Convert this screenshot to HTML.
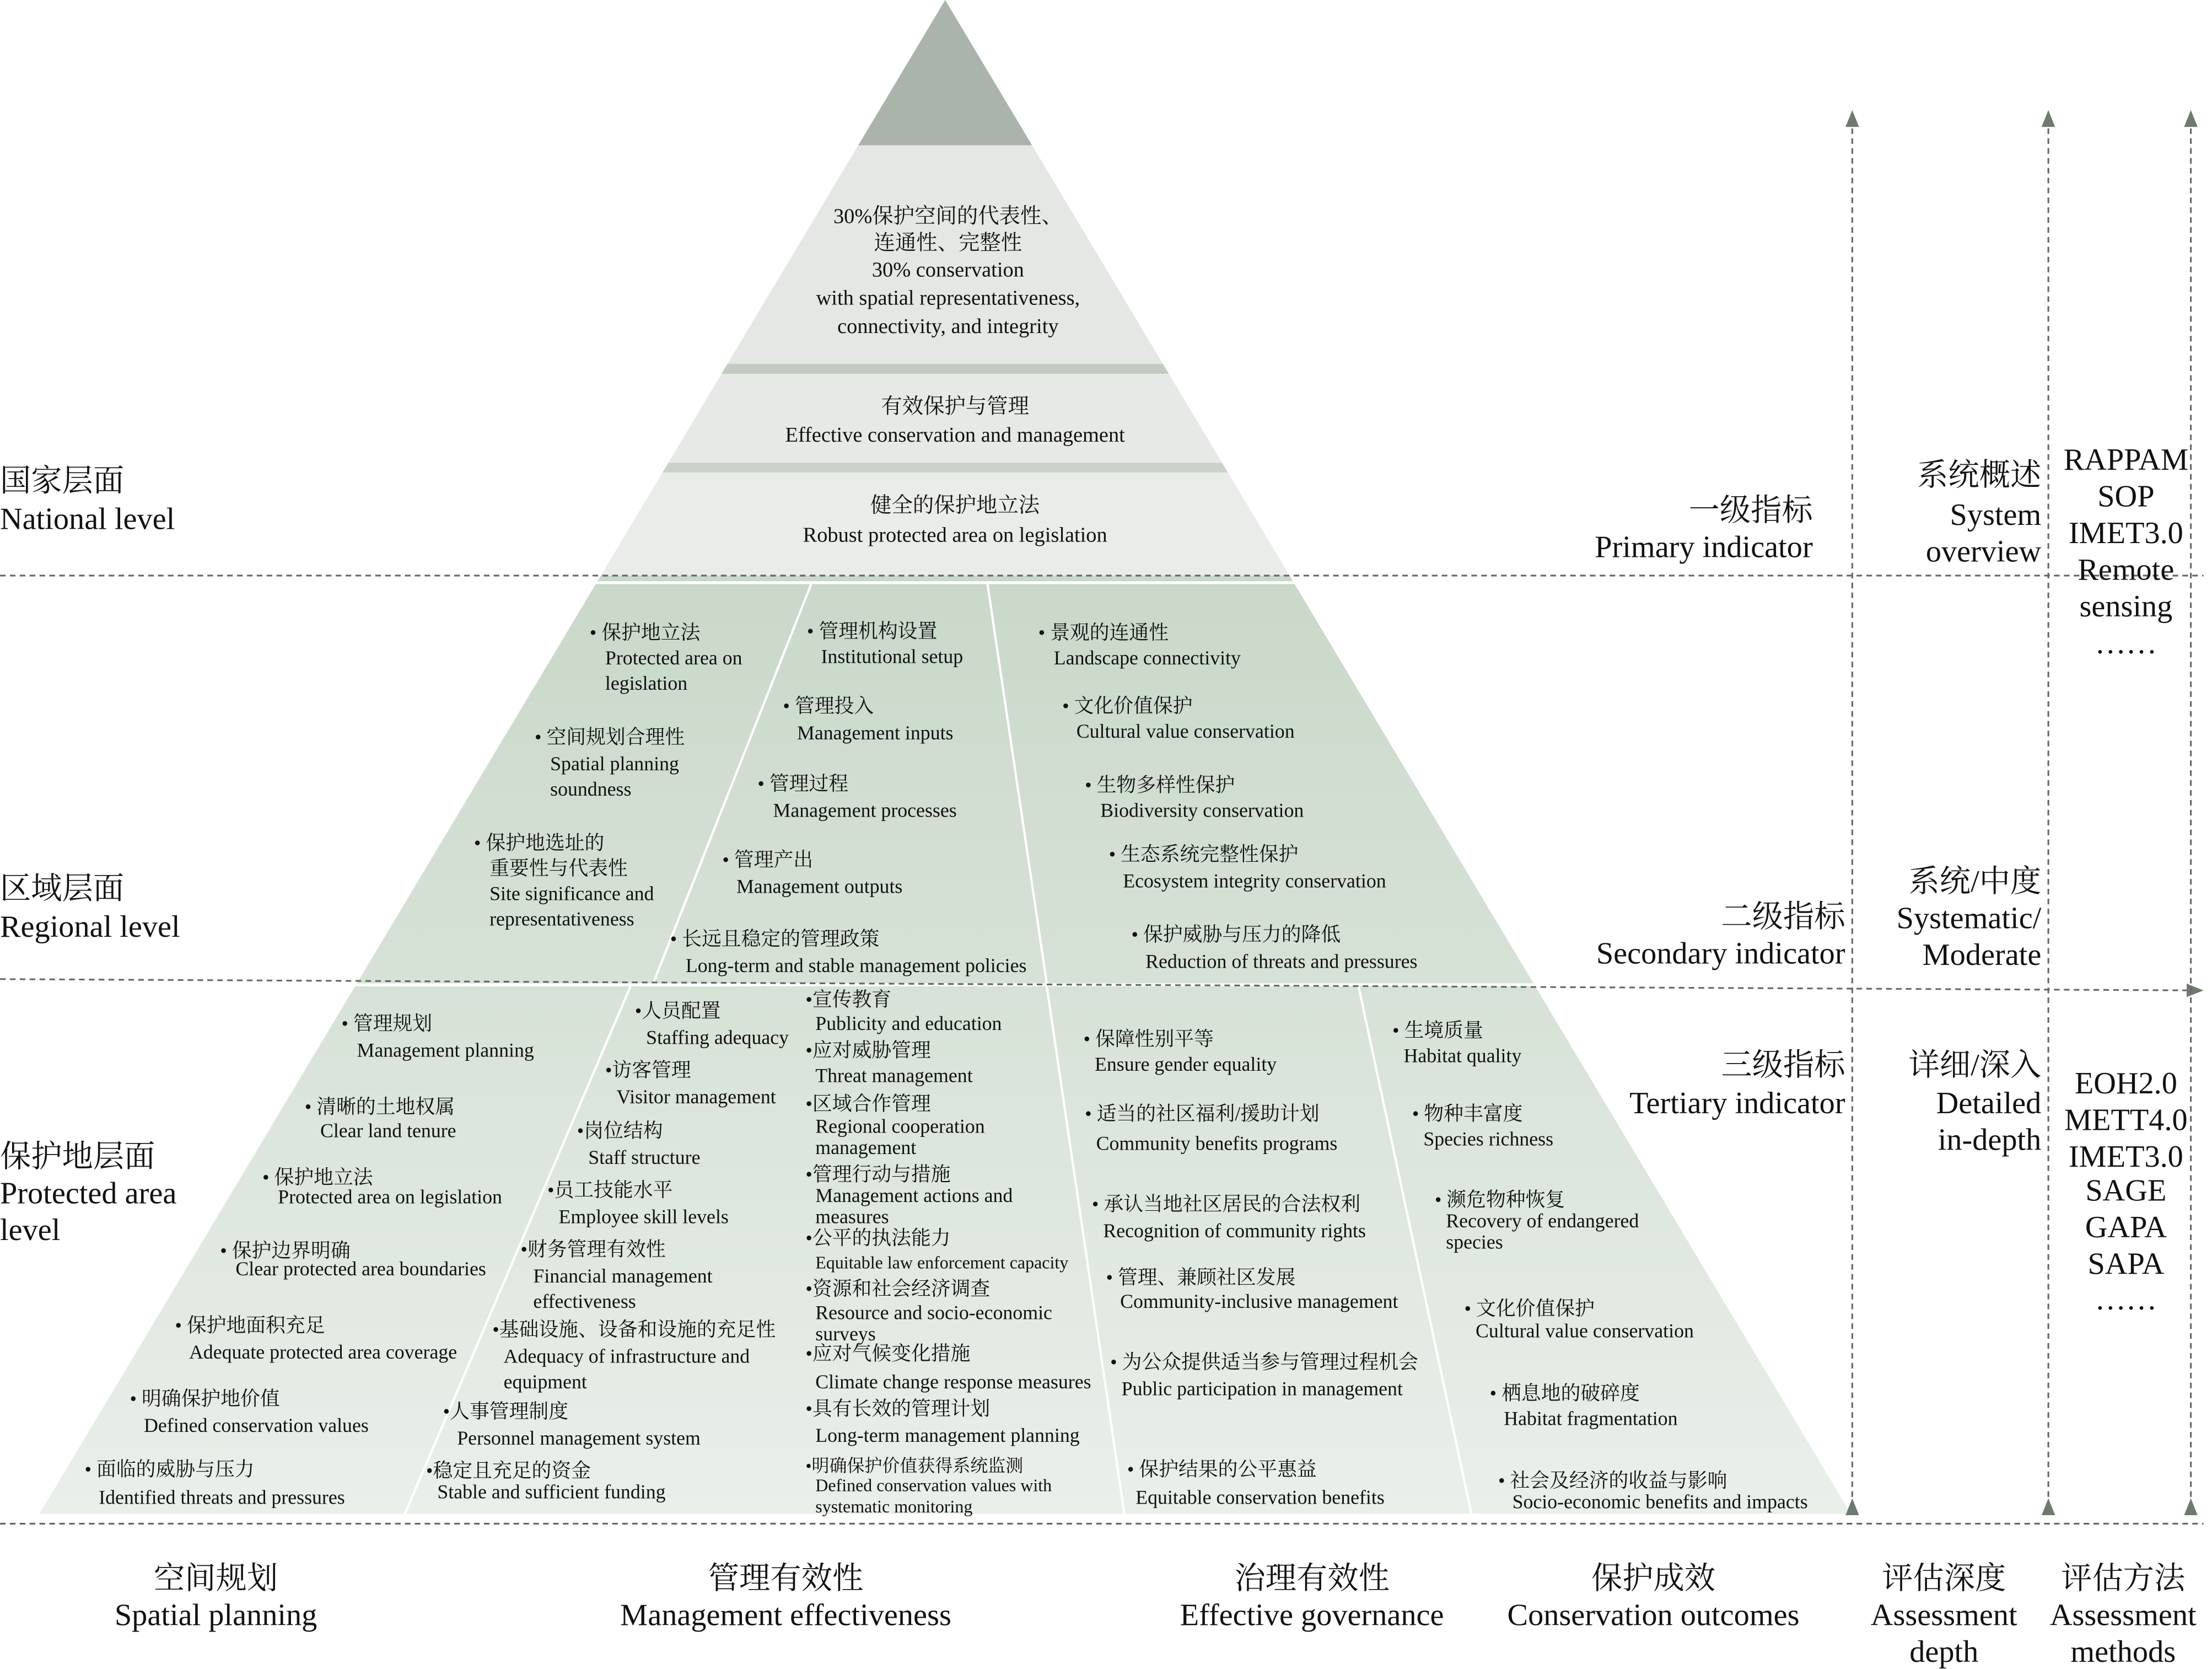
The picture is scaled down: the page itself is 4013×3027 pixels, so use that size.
<!DOCTYPE html>
<html><head><meta charset="utf-8"><style>
html,body{margin:0;padding:0;background:#fff;}
svg{display:block;}
text{font-family:"Liberation Serif","Noto Serif CJK SC","Noto Sans CJK SC",serif;fill:#111;}
.it{font-size:14px;}
.sm{font-size:12.5px;}
.pt{font-size:15px;}
.lb{font-size:22px;}
</style></head><body>
<svg width="4013" height="3027" viewBox="0 0 1568 1183" preserveAspectRatio="none" xmlns="http://www.w3.org/2000/svg">
<defs>
<clipPath id="tri"><polygon points="670,0 1312,1073 28,1073"/></clipPath>
<linearGradient id="g" x1="0" y1="408" x2="0" y2="1073" gradientUnits="userSpaceOnUse">
<stop offset="0" stop-color="#c9d8c9"/><stop offset="1" stop-color="#e9efe9"/></linearGradient>
<marker id="ah" markerWidth="10" markerHeight="10" refX="5" refY="5" orient="auto"><path d="M0,1 L10,5 L0,9 Z" fill="#6f7a6f"/></marker>
</defs>
<g clip-path="url(#tri)">
<rect x="0" y="0" width="1568" height="103" fill="#abb4aa"/>
<rect x="0" y="103" width="1568" height="155" fill="#e4e7e3"/>
<rect x="0" y="258" width="1568" height="7" fill="#c1ccc1"/>
<rect x="0" y="265" width="1568" height="63" fill="#e6e9e5"/>
<rect x="0" y="328" width="1568" height="7" fill="#c9d3c9"/>
<rect x="0" y="335" width="1568" height="73" fill="#e9ece8"/>
<rect x="0" y="408" width="1568" height="665" fill="url(#g)"/>
<rect x="0" y="412" width="1568" height="2" fill="#fff"/>
<rect x="0" y="697" width="1568" height="2" fill="#fff"/>
</g>
<g stroke="#fff" stroke-width="1.6">
<line x1="575" y1="414" x2="463" y2="697"/>
<line x1="700" y1="414" x2="742" y2="697"/>
<line x1="447" y1="699" x2="287" y2="1073"/>
<line x1="742" y1="699" x2="797" y2="1073"/>
<line x1="963" y1="699" x2="1043" y2="1073"/>
</g>
<g stroke="#666" stroke-width="1.2" stroke-dasharray="4,3" fill="none">
<line x1="0" y1="408" x2="1562" y2="408"/>
<line x1="0" y1="694" x2="1556" y2="702" marker-end="url(#ah)"/>
<line x1="0" y1="1080" x2="1562" y2="1080"/>
<line x1="1313" y1="1068" x2="1313" y2="84" marker-end="url(#ah)" marker-start="url(#ah)"/>
<line x1="1452" y1="1068" x2="1452" y2="84" marker-end="url(#ah)" marker-start="url(#ah)"/>
<line x1="1553" y1="1068" x2="1553" y2="84" marker-end="url(#ah)" marker-start="url(#ah)"/>
</g>
<g text-anchor="middle" class="pt">
<text x="672" y="158">30%保护空间的代表性、</text>
<text x="672" y="177">连通性、完整性</text>
<text x="672" y="196">30%  conservation</text>
<text x="672" y="216">with spatial representativeness,</text>
<text x="672" y="236">connectivity, and integrity</text>
<text x="677" y="293">有效保护与管理</text>
<text x="677" y="313">Effective conservation and management</text>
<text x="677" y="363">健全的保护地立法</text>
<text x="677" y="384">Robust protected area on legislation</text>
</g>
<g class="it">
<text x="418" y="453">• 保护地立法</text><text x="429" y="471">Protected area on</text><text x="429" y="489">legislation</text>
<text x="379" y="527">• 空间规划合理性</text><text x="390" y="546">Spatial planning</text><text x="390" y="564">soundness</text>
<text x="336" y="602">• 保护地选址的</text><text x="347" y="620">重要性与代表性</text><text x="347" y="638">Site significance and</text><text x="347" y="656">representativeness</text>
<text x="572" y="452">• 管理机构设置</text><text x="582" y="470">Institutional setup</text>
<text x="555" y="505">• 管理投入</text><text x="565" y="524">Management inputs</text>
<text x="537" y="560">• 管理过程</text><text x="548" y="579">Management processes</text>
<text x="512" y="614">• 管理产出</text><text x="522" y="633">Management outputs</text>
<text x="475" y="670">• 长远且稳定的管理政策</text><text x="486" y="689">Long-term and stable management policies</text>
<text x="736" y="453">• 景观的连通性</text><text x="747" y="471">Landscape connectivity</text>
<text x="753" y="505">• 文化价值保护</text><text x="763" y="523">Cultural value conservation</text>
<text x="769" y="561">• 生物多样性保护</text><text x="780" y="579">Biodiversity conservation</text>
<text x="786" y="610">• 生态系统完整性保护</text><text x="796" y="629">Ecosystem integrity conservation</text>
<text x="802" y="667">• 保护威胁与压力的降低</text><text x="812" y="686">Reduction of threats and pressures</text>

<text x="242" y="730">• 管理规划</text><text x="253" y="749">Management planning</text>
<text x="216" y="789">• 清晰的土地权属</text><text x="227" y="806">Clear land tenure</text>
<text x="186" y="839">• 保护地立法</text><text x="197" y="853">Protected area on legislation</text>
<text x="156" y="891">• 保护边界明确</text><text x="167" y="904">Clear protected area boundaries</text>
<text x="124" y="944">• 保护地面积充足</text><text x="134" y="963">Adequate protected area coverage</text>
<text x="92" y="996">• 明确保护地价值</text><text x="102" y="1015">Defined conservation values</text>
<text x="60" y="1046">• 面临的威胁与压力</text><text x="70" y="1066">Identified threats and pressures</text>

<text x="450" y="721">•人员配置</text><text x="458" y="740">Staffing adequacy</text>
<text x="429" y="763">•访客管理</text><text x="437" y="782">Visitor management</text>
<text x="409" y="806">•岗位结构</text><text x="417" y="825">Staff structure</text>
<text x="388" y="848">•员工技能水平</text><text x="396" y="867">Employee skill levels</text>
<text x="369" y="890">•财务管理有效性</text><text x="378" y="909">Financial management</text><text x="378" y="927">effectiveness</text>
<text x="349" y="947">•基础设施、设备和设施的充足性</text><text x="357" y="966">Adequacy of infrastructure and</text><text x="357" y="984">equipment</text>
<text x="314" y="1005">•人事管理制度</text><text x="324" y="1024">Personnel management system</text>
<text x="302" y="1047">•稳定且充足的资金</text><text x="310" y="1062">Stable and sufficient funding</text>

<text x="571" y="713">•宣传教育</text><text x="578" y="730">Publicity and education</text>
<text x="571" y="749">•应对威胁管理</text><text x="578" y="767">Threat management</text>
<text x="571" y="787">•区域合作管理</text><text x="578" y="803">Regional cooperation</text><text x="578" y="818">management</text>
<text x="571" y="837">•管理行动与措施</text><text x="578" y="852">Management actions and</text><text x="578" y="867">measures</text>
<text x="571" y="882">•公平的执法能力</text><text x="578" y="899" class="sm">Equitable law enforcement capacity</text>
<text x="571" y="918">•资源和社会经济调查</text><text x="578" y="935">Resource and socio-economic</text><text x="578" y="950">surveys</text>
<text x="571" y="964">•应对气候变化措施</text><text x="578" y="984">Climate change response measures</text>
<text x="571" y="1003">•具有长效的管理计划</text><text x="578" y="1022">Long-term management planning</text>
<text x="571" y="1043" class="sm">•明确保护价值获得系统监测</text><text x="578" y="1057" class="sm">Defined conservation values with</text><text x="578" y="1072" class="sm">systematic monitoring</text>

<text x="768" y="741">• 保障性别平等</text><text x="776" y="759">Ensure gender equality</text>
<text x="769" y="794">• 适当的社区福利/援助计划</text><text x="777" y="815">Community benefits programs</text>
<text x="774" y="858">• 承认当地社区居民的合法权利</text><text x="782" y="877">Recognition of community rights</text>
<text x="784" y="910">• 管理、兼顾社区发展</text><text x="794" y="927">Community-inclusive management</text>
<text x="787" y="970">• 为公众提供适当参与管理过程机会</text><text x="795" y="989">Public participation in management</text>
<text x="799" y="1046">• 保护结果的公平惠益</text><text x="805" y="1066">Equitable conservation benefits</text>

<text x="987" y="735">• 生境质量</text><text x="995" y="753">Habitat quality</text>
<text x="1001" y="794">• 物种丰富度</text><text x="1009" y="812">Species richness</text>
<text x="1017" y="855">• 濒危物种恢复</text><text x="1025" y="870">Recovery of endangered</text><text x="1025" y="885">species</text>
<text x="1038" y="932">• 文化价值保护</text><text x="1046" y="948">Cultural value conservation</text>
<text x="1056" y="992">• 栖息地的破碎度</text><text x="1066" y="1010">Habitat fragmentation</text>
<text x="1062" y="1054">• 社会及经济的收益与影响</text><text x="1072" y="1069">Socio-economic benefits and impacts</text>
</g>
<g class="lb">
<text x="0" y="348">国家层面</text><text x="0" y="375">National level</text>
<text x="0" y="637">区域层面</text><text x="0" y="664">Regional level</text>
<text x="0" y="827">保护地层面</text><text x="0" y="853">Protected area</text><text x="0" y="879">level</text>
</g>
<g class="lb" text-anchor="end">
<text x="1285" y="369">一级指标</text><text x="1285" y="395">Primary indicator</text>
<text x="1308" y="657">二级指标</text><text x="1308" y="683">Secondary indicator</text>
<text x="1308" y="762">三级指标</text><text x="1308" y="789">Tertiary indicator</text>
<text x="1447" y="344">系统概述</text><text x="1447" y="372">System</text><text x="1447" y="398">overview</text>
<text x="1447" y="632">系统/中度</text><text x="1447" y="658">Systematic/</text><text x="1447" y="684">Moderate</text>
<text x="1447" y="762">详细/深入</text><text x="1447" y="789">Detailed</text><text x="1447" y="815">in-depth</text>
</g>
<g class="lb" text-anchor="middle">
<text x="1507" y="333">RAPPAM</text><text x="1507" y="359">SOP</text><text x="1507" y="385">IMET3.0</text><text x="1507" y="411">Remote</text><text x="1507" y="437">sensing</text><text x="1507" y="463">……</text>
<text x="1507" y="775">EOH2.0</text><text x="1507" y="801">METT4.0</text><text x="1507" y="827">IMET3.0</text><text x="1507" y="851">SAGE</text><text x="1507" y="877">GAPA</text><text x="1507" y="903">SAPA</text><text x="1507" y="928">……</text>
<text x="153" y="1126">空间规划</text><text x="153" y="1152">Spatial planning</text>
<text x="557" y="1126">管理有效性</text><text x="557" y="1152">Management effectiveness</text>
<text x="930" y="1126">治理有效性</text><text x="930" y="1152">Effective governance</text>
<text x="1172" y="1126">保护成效</text><text x="1172" y="1152">Conservation outcomes</text>
<text x="1378" y="1126">评估深度</text><text x="1378" y="1152">Assessment</text><text x="1378" y="1178">depth</text>
<text x="1505" y="1126">评估方法</text><text x="1505" y="1152">Assessment</text><text x="1505" y="1178">methods</text>
</g>
</svg>
</body></html>
